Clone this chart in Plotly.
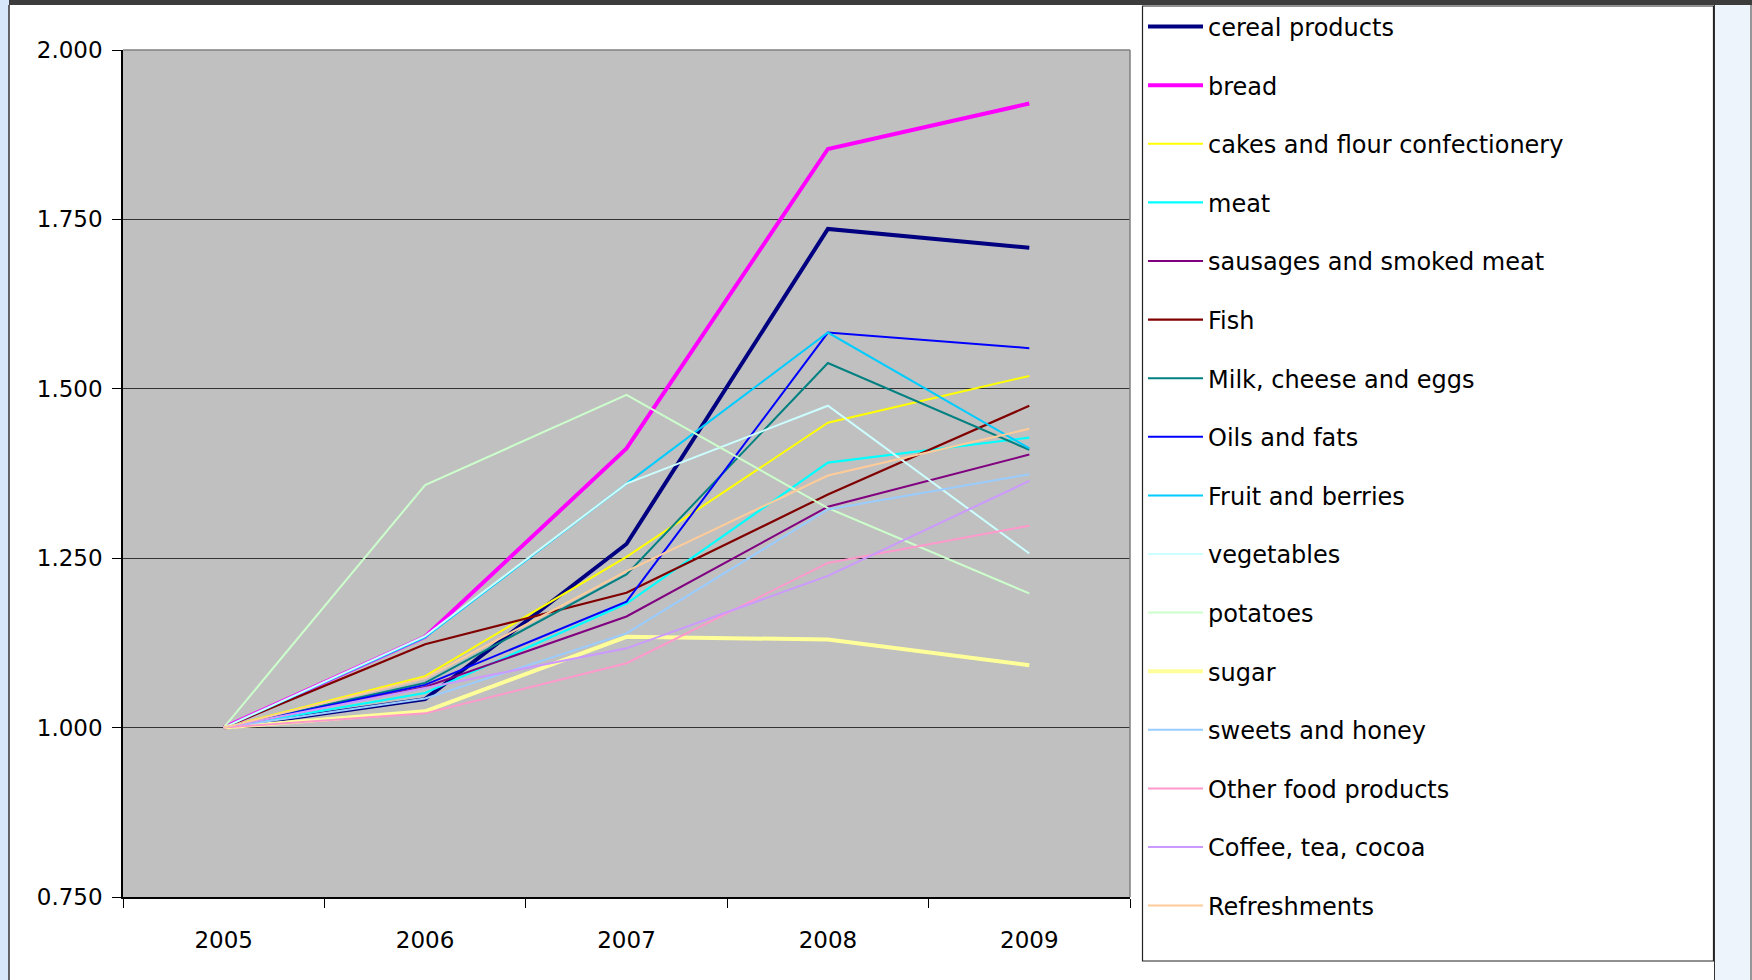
import plotly.graph_objects as go

years = ["2005", "2006", "2007", "2008", "2009"]

series_names = [
    "cereal products", "bread", "cakes and flour confectionery", "meat",
    "sausages and smoked meat", "Fish", "Milk, cheese and eggs", "Oils and fats",
    "Fruit and berries", "vegetables", "potatoes", "sugar", "sweets and honey",
    "Other food products", "Coffee, tea, cocoa", "Refreshments",
]

cereal_products = [1.000, 1.042, 1.271, 1.736, 1.708]
bread = [1.000, 1.134, 1.412, 1.854, 1.921]
cakes = [1.000, 1.076, 1.252, 1.450, 1.519]
meat = [1.000, 1.051, 1.183, 1.391, 1.428]
sausages = [1.000, 1.060, 1.164, 1.326, 1.403]
fish = [1.000, 1.123, 1.199, 1.344, 1.475]
milk = [1.000, 1.066, 1.226, 1.538, 1.410]
oils = [1.000, 1.063, 1.186, 1.583, 1.560]
fruit = [1.000, 1.133, 1.360, 1.583, 1.412]
vegetables = [1.000, 1.135, 1.360, 1.475, 1.257]
potatoes = [1.000, 1.358, 1.491, 1.324, 1.198]
sugar = [1.000, 1.024, 1.134, 1.130, 1.092]
sweets = [1.000, 1.043, 1.139, 1.322, 1.374]
other_food = [1.000, 1.021, 1.095, 1.243, 1.298]
coffee = [1.000, 1.058, 1.117, 1.224, 1.364]
refreshments = [1.000, 1.073, 1.231, 1.372, 1.441]

values = [cereal_products, bread, cakes, meat, sausages, fish, milk, oils,
          fruit, vegetables, potatoes, sugar, sweets, other_food, coffee, refreshments]

colors = ["#000080", "#FF00FF", "#FFFF00", "#00FFFF", "#800080", "#800000",
          "#008080", "#0000FF", "#00CCFF", "#CCFFFF", "#CCFFCC", "#FFFF99",
          "#99CCFF", "#FF99CC", "#CC99FF", "#FFCC99"]
widths = [4, 4, 2, 2.2, 2, 2.2, 2, 2, 2, 2, 2, 4, 2, 2, 2, 2]

y_ticks = [0.75, 1.0, 1.25, 1.5, 1.75, 2.0]

FONT = "Tahoma, 'DejaVu Sans', Verdana, sans-serif"

W, H = 1752, 980
L, R, T, B = 123, 622, 50, 83
PW, PH = W - L - R, H - T - B


def px(x):
    return (x - L) / PW


def py(y):
    return (H - B - y) / PH


fig = go.Figure()
for i, (name, vals) in enumerate(zip(series_names, values)):
    fig.add_trace(go.Scatter(
        x=years, y=vals, name=name, mode="lines",
        line=dict(color=colors[i], width=widths[i]),
        legendgroup=f"g{i}",
    ))

shapes = [
    dict(type="rect", xref="paper", yref="paper", x0=px(0), x1=px(9), y0=py(H), y1=py(0),
         fillcolor="#d6e6fb", line=dict(width=0), layer="below"),
    dict(type="line", xref="paper", yref="paper", x0=px(9), x1=px(9), y0=py(H), y1=py(5),
         line=dict(color="#333333", width=1.5)),
    dict(type="rect", xref="paper", yref="paper", x0=px(9), x1=px(W), y0=py(5), y1=py(0),
         fillcolor="#3c3c3c", line=dict(width=0)),
    dict(type="rect", xref="paper", yref="paper", x0=px(1714), x1=px(W), y0=py(H), y1=py(5),
         fillcolor="#eef4fc", line=dict(width=0), layer="below"),
    dict(type="line", xref="paper", yref="paper", x0=px(1714.5), x1=px(1714.5), y0=py(H), y1=py(5),
         line=dict(color="#333333", width=1)),
    dict(type="line", xref="paper", yref="paper", x0=px(1751), x1=px(1751), y0=py(H), y1=py(5),
         line=dict(color="#777777", width=1.5)),
    dict(type="rect", xref="paper", yref="paper", x0=px(1142.5), x1=px(1713.5), y0=py(961), y1=py(6),
         fillcolor="rgba(0,0,0,0)", line=dict(color="#222222", width=1.2)),
    dict(type="line", xref="paper", yref="paper", x0=0, x1=1, y0=1, y1=1,
         line=dict(color="#808080", width=1.5)),
    dict(type="line", xref="paper", yref="paper", x0=1, x1=1, y0=0, y1=1,
         line=dict(color="#808080", width=1.5)),
]

fig.update_layout(
    width=W, height=H,
    margin=dict(l=L, r=R, t=T, b=B, pad=0, autoexpand=False),
    paper_bgcolor="white",
    plot_bgcolor="#C0C0C0",
    font=dict(family=FONT, size=23, color="black"),
    showlegend=True,
    legend=dict(
        xref="container", yref="container",
        x=1143 / W, y=1.0 - 4.5 / H, xanchor="left", yanchor="top",
        font=dict(family=FONT, size=24, color="black"),
        bgcolor="rgba(0,0,0,0)", borderwidth=0,
        traceorder="grouped", tracegroupgap=24.4,
        itemwidth=55, maxheight=975,
    ),
    shapes=shapes,
    xaxis=dict(
        type="category", range=[-0.5, 4.5],
        showline=True, linecolor="black", linewidth=1.5,
        ticks="outside", tickson="boundaries", ticklen=9, tickcolor="black", tickwidth=1,
        showgrid=False, zeroline=False,
        ticklabelstandoff=22,
        tickfont=dict(family=FONT, size=23),
    ),
    yaxis=dict(
        range=[0.75, 2.0], tickvals=y_ticks, tickformat=".3f",
        showline=True, linecolor="black", linewidth=1.5,
        ticks="outside", ticklen=9, tickcolor="black", tickwidth=1,
        showgrid=True, gridcolor="#333333", gridwidth=1,
        zeroline=False, ticklabelstandoff=5,
        tickfont=dict(family=FONT, size=23),
    ),
)

fig.write_html("out.html")
